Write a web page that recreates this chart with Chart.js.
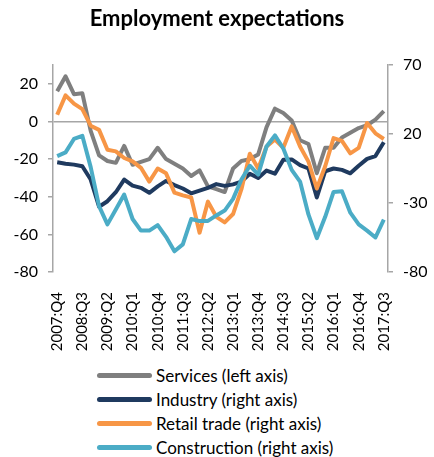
<!DOCTYPE html>
<html>
<head>
<meta charset="utf-8">
<script src="https://cdn.jsdelivr.net/npm/chart.js@4"></script>
<style>
  body { margin: 0; background: #fff; overflow: hidden; }
  #wrap { position: relative; width: 434px; height: 457px; }
  #legend { position: absolute; left: 97px; top: 363px; font-family: Lato, sans-serif; font-size: 17px; color: #000; }
  .row { display: flex; align-items: center; height: 24px; }
  .swatch { width: 55px; height: 5px; border-radius: 3px; margin-right: 4px; }
</style>
</head>
<body>
<div id="wrap">
  <canvas id="chart" width="434" height="360"></canvas>
  <div id="legend"></div>
</div>
<script>
const quarters = [
  '2007:Q4',
  '2008:Q1', '2008:Q2', '2008:Q3', '2008:Q4',
  '2009:Q1', '2009:Q2', '2009:Q3', '2009:Q4',
  '2010:Q1', '2010:Q2', '2010:Q3', '2010:Q4',
  '2011:Q1', '2011:Q2', '2011:Q3', '2011:Q4',
  '2012:Q1', '2012:Q2', '2012:Q3', '2012:Q4',
  '2013:Q1', '2013:Q2', '2013:Q3', '2013:Q4',
  '2014:Q1', '2014:Q2', '2014:Q3', '2014:Q4',
  '2015:Q1', '2015:Q2', '2015:Q3', '2015:Q4',
  '2016:Q1', '2016:Q2', '2016:Q3', '2016:Q4',
  '2017:Q1', '2017:Q2', '2017:Q3'
];

// left axis
const services = [16, 24, 14.5, 15, -5, -18, -21, -22, -13, -23,
  -21.5, -20, -14, -20, -22.5, -25, -29, -26, -34.5, -36,
  -37.5, -25, -21, -20, -17.5, -3, 6.8, 4.5, 0.5, -10,
  -12, -27.5, -14, -14, -8.5, -6, -3.5, -2, 1, 5.5];

// right axis
const industry = [-0.5, -1.5, -2.2, -3.4, -13, -32.7, -28.7, -22.2, -13, -17.4,
  -19, -22.6, -18, -14, -17, -19.5, -23, -21, -19, -16.3,
  -17.6, -16.5, -14.5, -8.8, -11.8, -6.5, -8.8, 1.4, 1.6, -2.5,
  -5, -26, -7, -5, -6, -8.5, -3, 2, 4, 14];
const retail = [34, 48, 42, 38, 26, 23, 8.6, 7.4, 2.6, 0.2,
  -4.5, -14.5, -5, -8.5, -22.5, -24.5, -26, -51.5, -29, -40,
  -44, -38, -20, 5.7, -5, 11, 16, 10, 25.5, 11,
  0, -19.5, -3.4, 17, 15, 6, 10, 28, 20.5, 16.4];
const construction = [4, 6.7, 16.4, 18.7, -4, -32.3, -45.5, -34.7, -23.9, -41.6,
  -50, -50, -46, -54.5, -65, -60, -41.6, -43.1, -43, -39,
  -35.5, -27, -13, -3, -9.4, 11, 19, 9.5, -6, -14.5,
  -38.3, -55.5, -40, -22, -21.5, -37, -45.5, -50, -55, -42];

const leftTicks = [-80, -60, -40, -20, 0, 20];
const rightTicks = [-80, -30, 20, 70];

const axisGray = '#A6A6A6';
Chart.defaults.font.family = 'Lato';
Chart.defaults.font.size = 16;
Chart.defaults.color = '#000';

function line(label, data, color, axis, order) {
  return {
    label: label,
    data: data,
    yAxisID: axis,
    borderColor: color,
    backgroundColor: color,
    borderWidth: 4,
    pointRadius: 0,
    tension: 0,
    borderJoinStyle: 'round',
    order: order
  };
}

const chart = new Chart(document.getElementById('chart'), {
  type: 'line',
  data: {
    labels: quarters,
    datasets: [
      line('Services (left axis)', services, '#7F7F7F', 'yL', 4),
      line('Industry (right axis)', industry, '#1F3A5F', 'yR', 3),
      line('Retail trade (right axis)', retail, '#F79646', 'yR', 2),
      line('Construction (right axis)', construction, '#4BACC6', 'yR', 1)
    ]
  },
  options: {
    responsive: false,
    animation: false,
    devicePixelRatio: 1,
    layout: { padding: 0 },
    plugins: {
      legend: { display: false },
      tooltip: { enabled: false },
      title: {
        display: true,
        text: 'Employment expectations',
        font: { size: 22, weight: 'bold' },
        color: '#000',
        padding: { top: 6, bottom: 32.6 }
      }
    },
    scales: {
      x: {
        offset: true,
        grid: { display: false },
        border: { display: false },
        ticks: {
          autoSkip: false,
          minRotation: 90,
          maxRotation: 90,
          padding: 12,
          font: { size: 15 },
          callback: function (v, i) { return i % 3 === 0 ? quarters[i] : ''; }
        },
        afterFit: function (s) { s.height = 88; }
      },
      yL: {
        position: 'left',
        min: -80,
        max: 30,
        afterBuildTicks: function (s) { s.ticks = leftTicks.map(v => ({ value: v })); },
        border: { color: axisGray, width: 1.5 },
        grid: {
          color: c => (c.tick && c.tick.value === 0) ? axisGray : 'rgba(0,0,0,0)',
          lineWidth: 1.5,
          tickColor: axisGray,
          tickLength: 5
        },
        ticks: { padding: 10 },
        afterFit: function (s) { s.width = 53; }
      },
      yR: {
        position: 'right',
        min: -80,
        max: 70,
        afterBuildTicks: function (s) { s.ticks = rightTicks.map(v => ({ value: v })); },
        border: { color: axisGray, width: 1.5 },
        grid: { drawOnChartArea: false, tickColor: axisGray, tickLength: 5, lineWidth: 1.5 },
        ticks: { padding: 10 },
        afterFit: function (s) { s.width = 46; }
      }
    }
  }
});

const legend = document.getElementById('legend');
chart.data.datasets.forEach(ds => {
  const row = document.createElement('div');
  row.className = 'row';
  const sw = document.createElement('span');
  sw.className = 'swatch';
  sw.style.background = ds.borderColor;
  const txt = document.createElement('span');
  txt.textContent = ds.label;
  row.appendChild(sw);
  row.appendChild(txt);
  legend.appendChild(row);
});
</script>
</body>
</html>
